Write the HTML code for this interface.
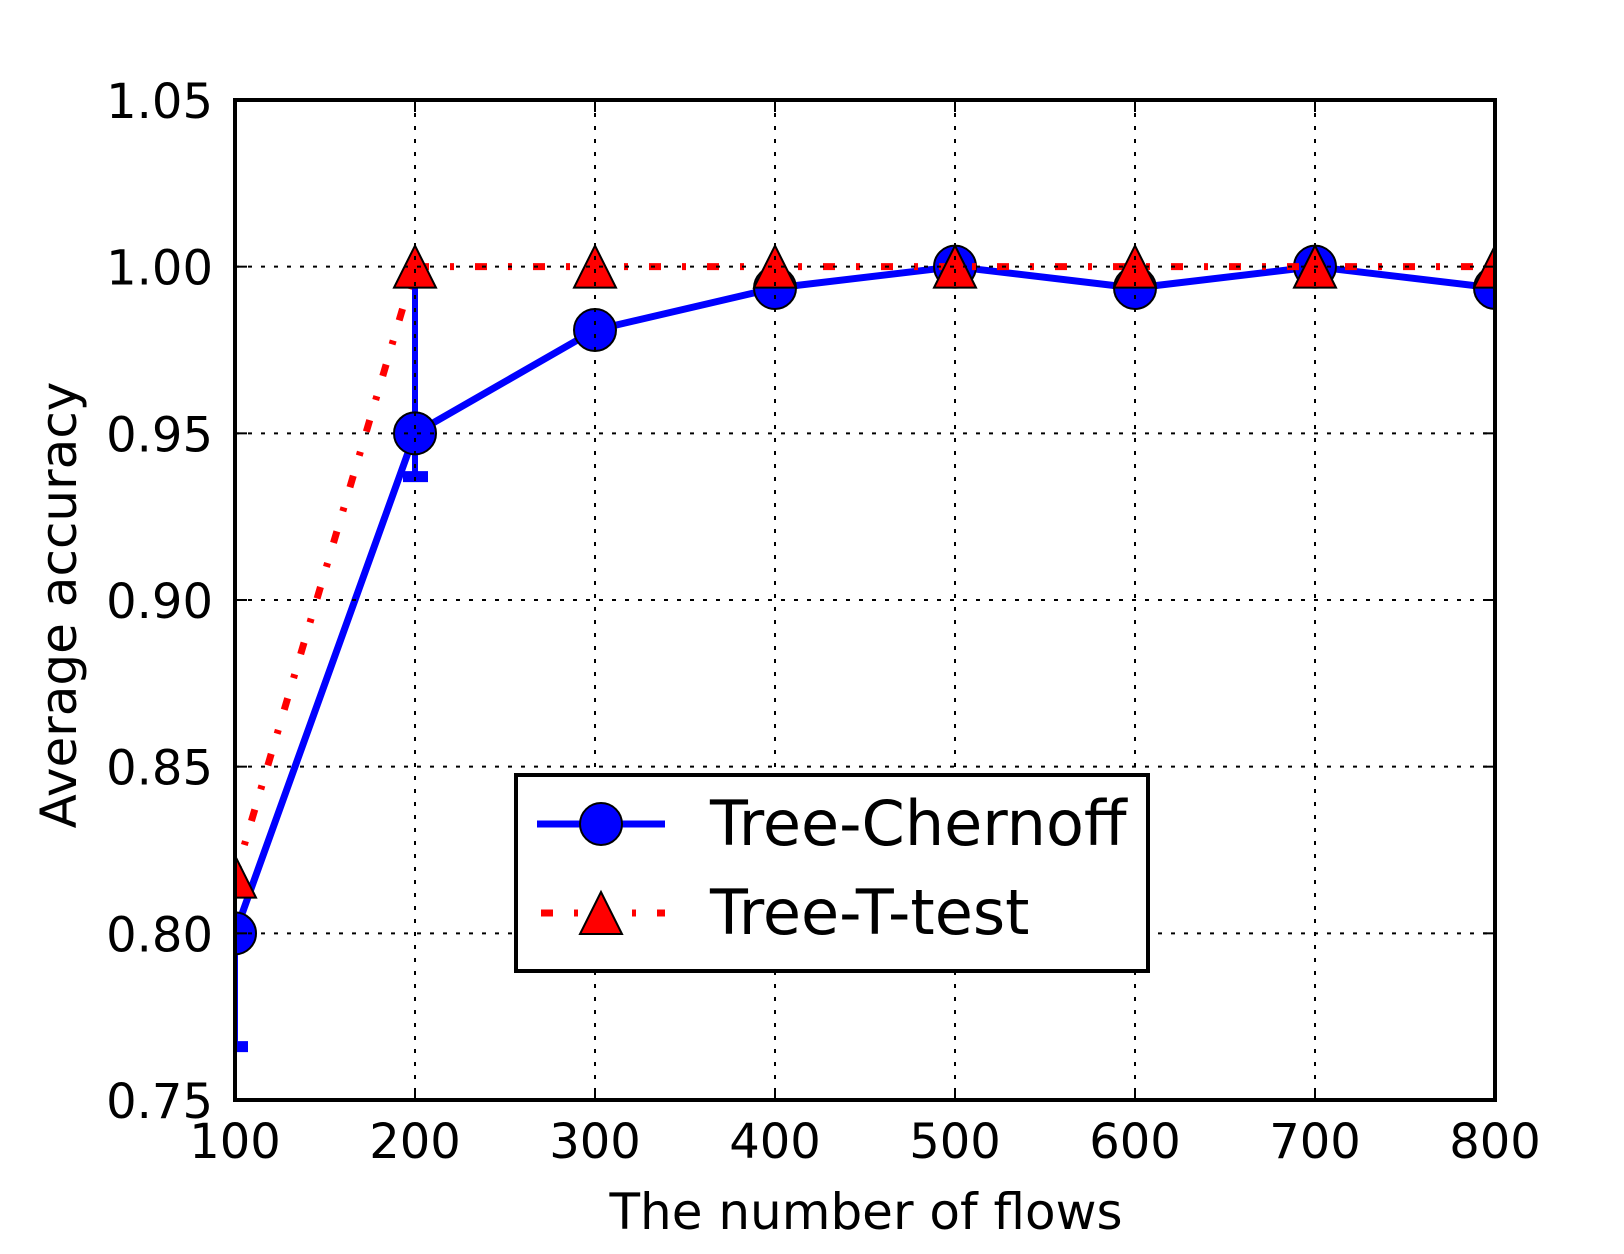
<!DOCTYPE html>
<html><head><meta charset="utf-8"><style>
html,body{margin:0;padding:0;background:#fff;}
svg{display:block;font-family:"DejaVu Sans","Liberation Sans",sans-serif;}
</style></head><body>
<svg id="chart" width="1624" height="1254" viewBox="0 0 1624 1254" xmlns="http://www.w3.org/2000/svg">
<defs><clipPath id="plotclip"><rect x="235" y="100" width="1260" height="1000"/></clipPath></defs>
<rect x="0" y="0" width="1624" height="1254" fill="#fff"/>
<g id="series" clip-path="url(#plotclip)"></g>
<g id="grid"></g>
<g id="ticks"></g>
<rect x="235" y="100" width="1260" height="1000" fill="none" stroke="#000" stroke-width="4"/>
<text x="866" y="1229" font-size="50" text-anchor="middle">The number of flows</text>
<text transform="translate(76,605) rotate(-90)" font-size="50" text-anchor="middle">Average accuracy</text>
<g>
<rect x="516" y="775" width="632" height="196" fill="#fff" stroke="#000" stroke-width="4"/>
<g>
<line x1="537" y1="824" x2="665" y2="824" stroke="#0000ff" stroke-width="7"/>
<circle cx="601" cy="824" r="21" fill="#0000ff" stroke="#000" stroke-width="2"/>
<text x="710" y="845" font-size="62">Tree-Chernoff</text>
</g>
<g>
<line x1="541" y1="913" x2="665" y2="913" stroke="#ff0000" stroke-width="7" stroke-dasharray="12,21,4,21"/>
<polygon points="601,892 580,934 622,934" fill="#ff0000" stroke="#000" stroke-width="2"/>
<text x="710" y="934" font-size="62">Tree-T-test</text>
</g>
</g>
</svg>
<script>
const xCategories = [100, 200, 300, 400, 500, 600, 700, 800];
const chernoffValues = [0.80, 0.95, 0.981, 0.9936, 1.0, 0.9936, 1.0, 0.9936];
const ttestValues = [0.817, 1.0, 1.0, 1.0, 1.0, 1.0, 1.0, 1.0];
const chernoffErrLow = [0.766, 0.937, null, null, null, null, null, null];
const chernoffErrHigh = [null, 1.0, null, null, null, null, null, null];
const xTicks = [100, 200, 300, 400, 500, 600, 700, 800];
const yTicks = [0.75, 0.80, 0.85, 0.90, 0.95, 1.00, 1.05];
const yTickLabels = ["0.75", "0.80", "0.85", "0.90", "0.95", "1.00", "1.05"];

const NS = "http://www.w3.org/2000/svg";
const L = 235, R = 1495, T = 100, B = 1100;
const xMin = 100, xMax = 800, yMin = 0.75, yMax = 1.05;
function xs(v){ return L + (v - xMin) / (xMax - xMin) * (R - L); }
function ys(v){ return B - (v - yMin) / (yMax - yMin) * (B - T); }
function mk(tag, attrs, parent){
  const e = document.createElementNS(NS, tag);
  for (const k in attrs) e.setAttribute(k, attrs[k]);
  parent.appendChild(e);
  return e;
}
const series = document.getElementById('series');
const grid = document.getElementById('grid');
const ticks = document.getElementById('ticks');

xCategories.forEach((c, i) => {
  const x = xs(c);
  if (chernoffErrLow[i] !== null) {
    const top = chernoffErrHigh[i] !== null ? chernoffErrHigh[i] : chernoffValues[i];
    const eb = mk('line', {x1:x, x2:x, y1:ys(top), y2:ys(chernoffErrLow[i]), stroke:'#0000ff', 'stroke-width':6}, series);
    
    
    const cap = mk('line', {x1:x-12, x2:x+13, y1:ys(chernoffErrLow[i]), y2:ys(chernoffErrLow[i]), stroke:'#0000ff', 'stroke-width':11}, series);
    
    
  }
});

const bpts = xCategories.map((c, i) => xs(c) + ',' + ys(chernoffValues[i])).join(' ');
const bl = mk('polyline', {points:bpts, fill:'none', stroke:'#0000ff', 'stroke-width':7, 'stroke-linejoin':'round'}, series);


xCategories.forEach((c, i) => {
  const p = mk('circle', {cx:xs(c), cy:ys(chernoffValues[i]), r:21, fill:'#0000ff', stroke:'#000', 'stroke-width':2}, series);
  
  
});

const rpts = xCategories.map((c, i) => xs(c) + ',' + ys(ttestValues[i])).join(' ');
const rl = mk('polyline', {points:rpts, fill:'none', stroke:'#ff0000', 'stroke-width':7, 'stroke-dasharray':'12,21,4,21'}, series);


xCategories.forEach((c, i) => {
  const x = xs(c), y = ys(ttestValues[i]);
  const p = mk('polygon', {points:`${x},${y-21} ${x-21},${y+21} ${x+21},${y+21}`, fill:'#ff0000', stroke:'#000', 'stroke-width':2}, series);
  
  
});

xTicks.forEach(v => {
  const x = xs(v);
  const g = mk('line', {x1:x, x2:x, y1:T, y2:B, stroke:'#000', 'stroke-width':2, 'stroke-dasharray':'4,9'}, grid);
  
  
  mk('line', {x1:x, x2:x, y1:B, y2:B-12, stroke:'#000', 'stroke-width':2}, ticks);
  mk('line', {x1:x, x2:x, y1:T, y2:T+12, stroke:'#000', 'stroke-width':2}, ticks);
  const t = mk('text', {x:x, y:1158, 'font-size':48, 'text-anchor':'middle'}, ticks);
  t.textContent = String(v);
  
  
});
yTicks.forEach((v, i) => {
  const y = ys(v);
  const g = mk('line', {x1:L, x2:R, y1:y, y2:y, stroke:'#000', 'stroke-width':2, 'stroke-dasharray':'4,9'}, grid);
  
  
  mk('line', {x1:L, x2:L+12, y1:y, y2:y, stroke:'#000', 'stroke-width':2}, ticks);
  mk('line', {x1:R, x2:R-12, y1:y, y2:y, stroke:'#000', 'stroke-width':2}, ticks);
  const t = mk('text', {x:213, y:y+18, 'font-size':48, 'text-anchor':'end'}, ticks);
  t.textContent = yTickLabels[i];
  
  
});
</script>
</body></html>
